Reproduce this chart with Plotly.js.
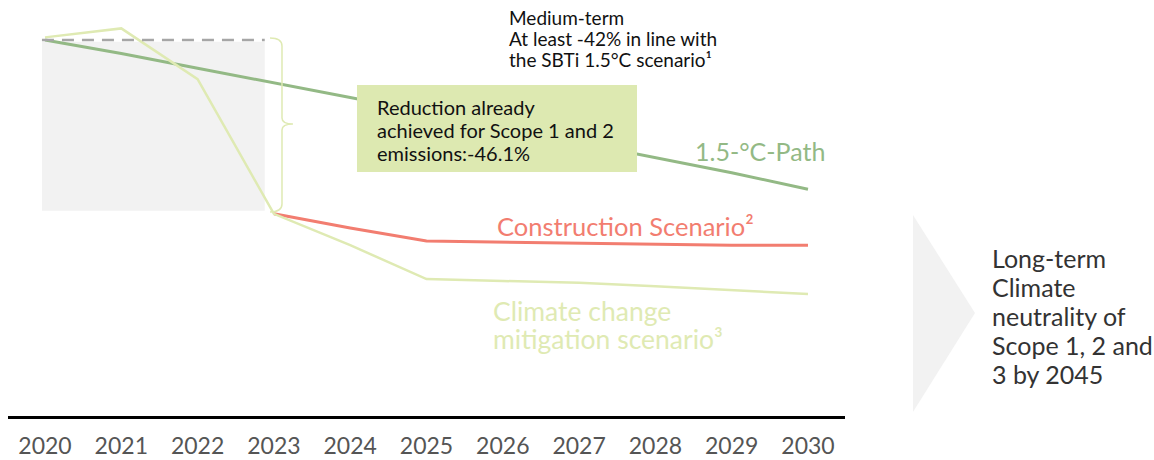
<!DOCTYPE html>
<html>
<head>
<meta charset="utf-8">
<script src="https://cdn.plot.ly/plotly-3.0.1.min.js"></script>
<style>html,body{margin:0;padding:0;background:#fff;}#chart{width:1154px;height:460px;}</style>
</head>
<body>
<div id="chart"></div>
<script>
// Data (index, 2020 = 100)
const years = [2020, 2021, 2022, 2023, 2024, 2025, 2026, 2027, 2028, 2029, 2030];
const tickLabels = ['2020','2021','2022','2023','2024','2025','2026','2027','2028','2029','2030'];
const path15 = [100, 96.4, 92.4, 88.6, 84.6, 80.6, 76.6, 72.6, 68.6, 64.4, 60.0];
const climateMitigation = [100.7, 103.1, 89.5, 53.4, 45.0, 35.9, 35.4, 34.9, 34.0, 33.0, 31.9];
const construction = [null, null, null, 53.4, 49.6, 46.1, 45.8, 45.6, 45.3, 45.0, 45.0];
const achievedReduction = 46.1;

// Text
const calloutLines = ['Reduction already', 'achieved for Scope 1 and 2', 'emissions:-' + achievedReduction.toFixed(1) + '%'];
const mediumLines = ['Medium-term', 'At least -42% in line with', 'the SBTi 1.5°C scenario¹'];
const climateLines = ['Climate change', 'mitigation scenario³'];
const longLines = ['Long-term', 'Climate', 'neutrality of', 'Scope 1, 2 and', '3 by 2045'];

const FONT = 'Lato, "Open Sans", sans-serif';
const GREEN = '#93b985';
const RED = '#f27d70';
const LIGHT = '#dfeab3';

const traces = [
  {x: years, y: path15, mode: 'lines', line: {color: GREEN, width: 3}, hoverinfo: 'skip'},
  {x: years, y: construction, mode: 'lines', line: {color: RED, width: 3}, hoverinfo: 'skip'},
  {x: years, y: climateMitigation, mode: 'lines', line: {color: LIGHT, width: 2.5}, hoverinfo: 'skip'}
];

const base = path15[0];
const after = base - achievedReduction;

const shapes = [
  {type: 'rect', xref: 'x', yref: 'y', x0: 2019.96, x1: 2022.88, y0: after + 0.3, y1: base - 0.5,
   fillcolor: '#f2f2f2', line: {width: 0}, layer: 'below'},
  {type: 'line', xref: 'x', yref: 'y', x0: 2019.96, x1: 2022.88, y0: base, y1: base,
   line: {color: '#a6a6a6', width: 2.5, dash: '12px,8px'}, layer: 'above'},
  {type: 'path', xref: 'x', yref: 'y', layer: 'above',
   path: 'M 2022.949 100.54 Q 2023.106 100.54 2023.106 98.39 L 2023.106 79.09 Q 2023.106 77.48 2023.250 77.48 Q 2023.106 77.48 2023.106 75.87 L 2023.106 56.03 Q 2023.106 53.89 2022.949 53.89',
   line: {color: LIGHT, width: 1.5}},
  {type: 'rect', xref: 'x', yref: 'y', x0: 2024.089, x1: 2027.759, y0: 64.61, y1: 87.94,
   fillcolor: '#dde9b1', line: {width: 0}, layer: 'above'},
  {type: 'path', xref: 'paper', yref: 'paper', layer: 'above',
   path: 'M 1.0812 0.4832 L 1.1553 0.2476 L 1.0812 0.0096 Z',
   fillcolor: '#f2f2f2', line: {width: 0}}
];

const annotations = [];
function addLines(lines, opts) {
  lines.forEach((t, i) => {
    annotations.push({
      xref: opts.xref, yref: opts.yref, x: opts.x, y: opts.y0 + i * opts.dy,
      xanchor: opts.xanchor || 'left', yanchor: 'middle', align: 'left', showarrow: false,
      text: t, font: {family: FONT, size: opts.size, color: opts.color}
    });
  });
}
addLines(calloutLines, {xref: 'x', yref: 'y', x: 2024.325, y0: 82.04, dy: -6.17, size: 20, color: '#111'});
addLines(mediumLines, {xref: 'x', yref: 'paper', x: 2026.055, y0: 0.959, dy: -0.0516, size: 19, color: '#111'});
addLines(climateLines, {xref: 'x', yref: 'y', x: 2025.84, y0: 27.35, dy: -7.51, size: 26.5, color: LIGHT});
addLines(longLines, {xref: 'paper', yref: 'paper', x: 1.1732, y0: 0.3798, dy: -0.0697, size: 25, color: '#333'});
annotations.push({xref: 'x', yref: 'y', x: 2029.37, y: 70.3, xanchor: 'center', yanchor: 'middle', showarrow: false,
  text: '1.5-°C-Path', font: {family: FONT, size: 25, color: GREEN}});
annotations.push({xref: 'x', yref: 'y', x: 2025.9, y: 50.13, xanchor: 'left', yanchor: 'middle', showarrow: false,
  text: 'Construction Scenario²', font: {family: FONT, size: 25.5, color: RED}});

const layout = {
  width: 1154, height: 460,
  margin: {l: 8, r: 309, t: 0, b: 44},
  paper_bgcolor: '#fff', plot_bgcolor: '#fff',
  showlegend: false,
  xaxis: {
    range: [2019.515, 2030.485], tickmode: 'array', tickvals: years, ticktext: tickLabels,
    showgrid: false, zeroline: false, showline: true, linecolor: '#000', linewidth: 3,
    ticks: '', ticklabelstandoff: 7,
    tickfont: {family: FONT, size: 23, color: '#555'},
    fixedrange: true
  },
  yaxis: {range: [-0.8, 110.72], visible: false, showgrid: false, zeroline: false, fixedrange: true},
  shapes: shapes,
  annotations: annotations
};

Plotly.newPlot('chart', traces, layout, {displayModeBar: false, staticPlot: true});
</script>
</body>
</html>
